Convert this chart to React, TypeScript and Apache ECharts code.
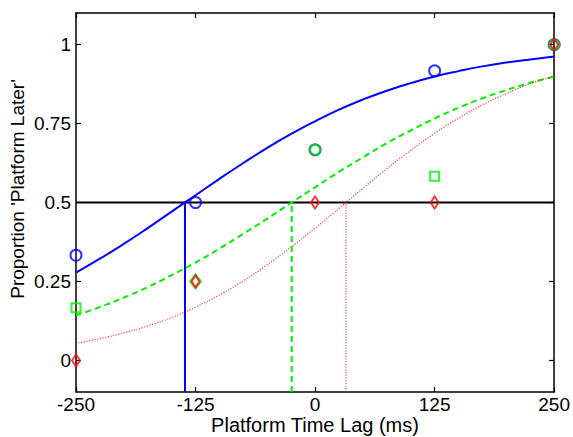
import React, { useEffect, useRef } from "react";
import * as echarts from "echarts";

// Observed proportions at each platform time lag
const lagLevels = [-250, -125, 0, 125, 250];
const blueObserved = [0.333, 0.5, 0.667, 0.917, 1.0];
const greenObserved = [0.167, 0.25, 0.667, 0.583, 1.0];
const greenSymbols = ["rect", "diamond", "circle", "rect", "circle"];
const redObserved = [0, 0.25, 0.5, 0.5, 1.0];

// Fitted psychometric curves, every 25 ms
const curveX = [-250, -225, -200, -175, -150, -125, -100, -75, -50, -25, 0, 25, 50, 75, 100, 125, 150, 175, 200, 225, 250];
const blueCurve = [0.278, 0.322, 0.369, 0.419, 0.471, 0.523, 0.575, 0.625, 0.673, 0.717, 0.757, 0.794, 0.826, 0.854, 0.878, 0.899, 0.916, 0.931, 0.943, 0.953, 0.962];
const greenCurve = [0.143, 0.169, 0.199, 0.232, 0.27, 0.31, 0.354, 0.401, 0.449, 0.499, 0.548, 0.597, 0.643, 0.688, 0.728, 0.766, 0.8, 0.83, 0.856, 0.879, 0.898];
const redCurve = [0.054, 0.069, 0.087, 0.109, 0.136, 0.169, 0.207, 0.252, 0.303, 0.359, 0.419, 0.481, 0.545, 0.607, 0.665, 0.719, 0.767, 0.809, 0.845, 0.876, 0.901];

// 50% points (PSE)
const bluePSE = -136;
const greenPSE = -24.4;
const redPSE = 32.3;
const criterion = 0.5;

const xTicks = [-250, -125, 0, 125, 250];
const yTicks = [0, 0.25, 0.5, 0.75, 1];

const FONT = "'Liberation Sans', Arial, Helvetica, sans-serif";
const BLUE = "#0000ff";
const GREEN = "#00f000";
const RED = "#ff0000";

export default function App() {
  const ref = useRef<HTMLDivElement>(null);

  useEffect(() => {
    if (!ref.current) return;
    const chart = echarts.init(ref.current, null, { renderer: "svg" });
    const zip = (xs: number[], ys: number[]) => xs.map((x, i) => [x, ys[i]]);
    const yMin = -0.1;

    const option: any = {
      animation: false,
      backgroundColor: "#ffffff",
      grid: { left: 76, top: 13, right: 17, bottom: 45, containLabel: false },
      xAxis: [
        {
          type: "value",
          min: xTicks[0],
          max: xTicks[xTicks.length - 1],
          interval: 125,
          position: "bottom",
          axisLine: { show: true, onZero: false, lineStyle: { color: "#000", width: 1.5 } },
          axisTick: { show: true, inside: true, length: 5, lineStyle: { color: "#000", width: 1.2 } },
          axisLabel: { show: true, color: "#000", fontSize: 19, fontFamily: FONT, margin: 3 },
          splitLine: { show: false },
        },
        {
          type: "value",
          min: xTicks[0],
          max: xTicks[xTicks.length - 1],
          interval: 125,
          position: "top",
          axisLine: { show: true, onZero: false, lineStyle: { color: "#000", width: 1.5 } },
          axisTick: { show: true, inside: true, length: 5, lineStyle: { color: "#000", width: 1.2 } },
          axisLabel: { show: false },
          splitLine: { show: false },
        },
      ],
      yAxis: [
        {
          type: "value",
          min: yMin,
          max: 1.1,
          position: "left",
          axisLine: { show: true, onZero: false, lineStyle: { color: "#000", width: 1.5 } },
          axisTick: { show: true, inside: true, length: 5, customValues: yTicks, lineStyle: { color: "#000", width: 1.2 } },
          axisLabel: { show: true, color: "#000", fontSize: 19, fontFamily: FONT, margin: 5, customValues: yTicks },
          splitLine: { show: false },
        },
        {
          type: "value",
          min: yMin,
          max: 1.1,
          position: "right",
          axisLine: { show: true, onZero: false, lineStyle: { color: "#000", width: 1.5 } },
          axisTick: { show: true, inside: true, length: 5, customValues: yTicks, lineStyle: { color: "#000", width: 1.2 } },
          axisLabel: { show: false, customValues: yTicks },
          splitLine: { show: false },
        },
      ],
      series: [
        {
          type: "line",
          name: "criterion",
          data: [[xTicks[0], criterion], [xTicks[xTicks.length - 1], criterion]],
          showSymbol: false,
          symbol: "none",
          lineStyle: { color: "#000", width: 2 },
          z: 2,
        },
        {
          type: "line",
          name: "blue fit",
          data: zip(curveX, blueCurve),
          smooth: true,
          symbol: "none",
          lineStyle: { color: BLUE, width: 2 },
          z: 3,
        },
        {
          type: "line",
          name: "green fit",
          data: zip(curveX, greenCurve),
          smooth: true,
          symbol: "none",
          lineStyle: { color: GREEN, width: 2, type: [6, 4] },
          z: 3,
        },
        {
          type: "line",
          name: "red fit",
          data: zip(curveX, redCurve),
          smooth: true,
          symbol: "none",
          lineStyle: { color: RED, width: 1.2, type: [1.2, 1.5], opacity: 0.75 },
          z: 3,
        },
        {
          type: "line",
          name: "blue PSE",
          data: [[bluePSE, yMin], [bluePSE, criterion]],
          symbol: "none",
          lineStyle: { color: BLUE, width: 2 },
          z: 3,
        },
        {
          type: "line",
          name: "green PSE",
          data: [[greenPSE, yMin], [greenPSE, criterion]],
          symbol: "none",
          lineStyle: { color: GREEN, width: 2, type: [6, 4] },
          z: 3,
        },
        {
          type: "line",
          name: "red PSE",
          data: [[redPSE, yMin], [redPSE, criterion]],
          symbol: "none",
          lineStyle: { color: RED, width: 1.2, type: [1.2, 1.5], opacity: 0.75 },
          z: 3,
        },
        {
          type: "scatter",
          name: "blue data",
          data: zip(lagLevels, blueObserved),
          symbol: "circle",
          symbolSize: 11,
          clip: false,
          itemStyle: { color: "rgba(0,0,0,0)", borderColor: BLUE, borderWidth: 2 },
          z: 5,
        },
        {
          type: "scatter",
          name: "green data",
          data: lagLevels.map((x, i) => ({
            value: [x, greenObserved[i]],
            symbol: greenSymbols[i],
            symbolSize: greenSymbols[i] === "diamond" ? [11, 14] : greenSymbols[i] === "rect" ? 9 : 10,
          })),
          clip: false,
          itemStyle: { color: "rgba(0,0,0,0)", borderColor: GREEN, borderWidth: 2 },
          z: 6,
        },
        {
          type: "scatter",
          name: "red data",
          data: zip(lagLevels, redObserved),
          symbol: "diamond",
          symbolSize: [8, 12],
          clip: false,
          itemStyle: { color: "rgba(0,0,0,0)", borderColor: RED, borderWidth: 2 },
          z: 7,
        },
      ],
      graphic: [
        {
          type: "text",
          x: 17,
          y: 189,
          rotation: Math.PI / 2,
          style: {
            text: "Proportion 'Platform Later'",
            fontSize: 19,
            fontFamily: FONT,
            fill: "#000",
            textAlign: "center",
            textVerticalAlign: "middle",
          },
        },
        {
          type: "text",
          x: 315,
          y: 425,
          style: {
            text: "Platform Time Lag (ms)",
            fontSize: 20,
            fontFamily: FONT,
            fill: "#000",
            textAlign: "center",
            textVerticalAlign: "middle",
          },
        },
      ],
    };
    chart.setOption(option);
    return () => chart.dispose();
  }, []);

  return (
    <div
      ref={ref}
      style={{ position: "fixed", left: 0, top: 0, width: 573, height: 437, background: "#fff" }}
    />
  );
}
